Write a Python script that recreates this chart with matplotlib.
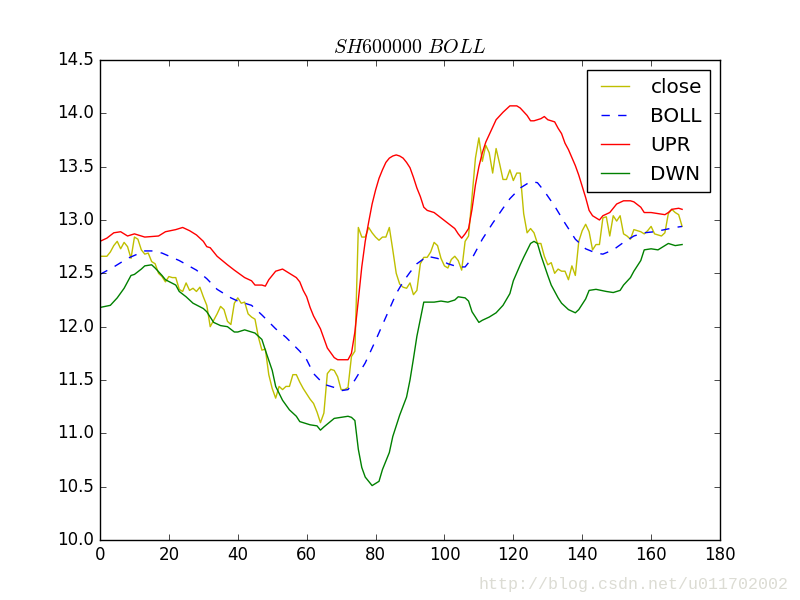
import matplotlib
matplotlib.use("Agg")
import matplotlib.pyplot as plt

plt.style.use("classic")

# close price, one value per trading day (0..169)
close = [
    12.66, 12.66, 12.66, 12.70, 12.76, 12.80, 12.73, 12.79, 12.75, 12.64,
    12.84, 12.82, 12.72, 12.68, 12.69, 12.61, 12.59, 12.50, 12.47, 12.42,
    12.47, 12.46, 12.46, 12.35, 12.33, 12.41, 12.34, 12.36, 12.33, 12.37,
    12.28, 12.20, 12.00, 12.06, 12.12, 12.19, 12.16, 12.05, 12.02, 12.22,
    12.27, 12.22, 12.23, 12.12, 12.09, 12.07, 11.90, 11.78, 11.79, 11.55,
    11.42, 11.33, 11.44, 11.41, 11.44, 11.44, 11.55, 11.55, 11.48, 11.42,
    11.37, 11.32, 11.28, 11.20, 11.10, 11.19, 11.56, 11.60, 11.59, 11.53,
    11.41, 11.41, 11.43, 11.72, 11.77, 12.93, 12.84, 12.84, 12.93, 12.88,
    12.84, 12.81, 12.84, 12.84, 12.93, 12.72, 12.50, 12.40, 12.37, 12.36,
    12.41, 12.30, 12.34, 12.59, 12.65, 12.65, 12.70, 12.79, 12.76, 12.64,
    12.57, 12.55, 12.63, 12.66, 12.62, 12.53, 12.80, 12.85, 13.22, 13.58,
    13.77, 13.55, 13.70, 13.63, 13.44, 13.67, 13.53, 13.38, 13.38, 13.47,
    13.37, 13.44, 13.44, 13.06, 12.88, 12.92, 12.88, 12.78, 12.78, 12.66,
    12.58, 12.60, 12.50, 12.54, 12.52, 12.52, 12.44, 12.57, 12.48, 12.80,
    12.90, 12.96, 12.89, 12.72, 12.77, 12.77, 13.02, 13.03, 12.85, 13.04,
    12.99, 13.04, 12.87, 12.85, 12.82, 12.91, 12.90, 12.89, 12.87, 12.90,
    12.94, 12.87, 12.86, 12.85, 12.88, 13.06, 13.10, 13.07, 13.05, 12.94,
]
days = list(range(len(close)))

# bollinger middle band, read at sampled days
boll_x = [0, 4, 8, 13, 15, 18, 23, 28, 31, 34, 38, 40, 44, 47, 51, 54, 58, 60,
          62, 65, 68, 70, 72, 74, 77, 80, 83, 86, 88, 90, 92, 95, 98, 101, 104,
          106, 108, 111, 114, 117, 119, 122, 125, 127, 129, 132, 135, 138, 141,
          144, 146, 149, 152, 155, 158, 161, 164, 167, 169]
boll = [12.49, 12.56, 12.64, 12.71, 12.71, 12.69, 12.62, 12.53, 12.45, 12.35,
        12.27, 12.24, 12.20, 12.11, 11.98, 11.90, 11.77, 11.69, 11.56, 11.46,
        11.43, 11.40, 11.41, 11.50, 11.66, 11.87, 12.09, 12.31, 12.42, 12.51,
        12.59, 12.66, 12.64, 12.59, 12.56, 12.56, 12.64, 12.82, 12.97, 13.11,
        13.20, 13.30, 13.36, 13.35, 13.27, 13.13, 12.97, 12.82, 12.73, 12.69,
        12.68, 12.72, 12.79, 12.85, 12.88, 12.89, 12.91, 12.93, 12.94]

# upper band
upr_x = [0, 2, 4, 6, 8, 10, 13, 17, 19, 22, 24, 26, 28, 30, 31, 32, 34, 37,
         39, 42, 44, 45, 47, 48, 49, 51, 53, 55, 57, 58, 59, 60, 61, 62, 64,
         66, 68, 69, 72, 73, 74, 75, 76, 77, 78, 79, 80, 81, 82, 83, 84, 85,
         86, 87, 88, 89, 90, 91, 92, 93, 94, 95, 97, 99, 101, 103, 104, 105,
         106, 107, 108, 109, 110, 111, 112, 113, 114, 115, 117, 119, 121, 122,
         124, 125, 126, 128, 129, 130, 132, 133, 134, 135, 136, 138, 139, 141,
         142, 143, 145, 146, 148, 149, 150, 152, 154, 155, 157, 158, 160, 162,
         164, 165, 166, 168, 169]
upr = [12.80, 12.83, 12.88, 12.89, 12.85, 12.87, 12.84, 12.85, 12.89, 12.91,
       12.93, 12.90, 12.86, 12.80, 12.75, 12.74, 12.66, 12.58, 12.53, 12.46,
       12.43, 12.39, 12.39, 12.38, 12.44, 12.52, 12.54, 12.50, 12.46, 12.42,
       12.34, 12.28, 12.18, 12.10, 11.98, 11.80, 11.71, 11.69, 11.69, 11.75,
       11.95, 12.25, 12.56, 12.80, 12.98, 13.15, 13.28, 13.39, 13.47, 13.54,
       13.58, 13.60, 13.61, 13.60, 13.58, 13.54, 13.49, 13.40, 13.30, 13.22,
       13.12, 13.09, 13.07, 13.02, 12.97, 12.92, 12.87, 12.83, 12.87, 12.92,
       13.10, 13.33, 13.50, 13.63, 13.73, 13.80, 13.87, 13.94, 14.01, 14.07,
       14.07, 14.05, 13.98, 13.93, 13.93, 13.95, 13.97, 13.94, 13.92, 13.86,
       13.81, 13.72, 13.66, 13.51, 13.42, 13.21, 13.09, 13.04, 13.00, 13.04,
       13.07, 13.11, 13.15, 13.18, 13.18, 13.17, 13.12, 13.07, 13.07, 13.06,
       13.05, 13.07, 13.10, 13.11, 13.10]

# lower band
dwn_x = [0, 3, 5, 7, 9, 10, 12, 13, 15, 16, 18, 19, 22, 23, 25, 27, 30, 31,
         33, 35, 37, 39, 40, 42, 44, 45, 47, 48, 50, 51, 53, 55, 57, 58, 61,
         63, 64, 65, 68, 70, 72, 73, 74, 75, 76, 77, 79, 81, 82, 84, 85, 87,
         89, 90, 91, 92, 93, 94, 97, 99, 101, 103, 104, 106, 107, 108, 110,
         111, 113, 115, 117, 119, 120, 122, 123, 125, 126, 127, 128, 130, 131,
         133, 134, 136, 138, 139, 141, 142, 144, 147, 149, 151, 152, 154, 155,
         157, 158, 160, 162, 163, 165, 167, 169]
dwn = [12.18, 12.20, 12.27, 12.36, 12.48, 12.49, 12.54, 12.57, 12.58, 12.55,
       12.48, 12.44, 12.39, 12.33, 12.28, 12.22, 12.17, 12.14, 12.04, 12.01,
       12.00, 11.95, 11.95, 11.97, 11.95, 11.94, 11.88, 11.78, 11.59, 11.44,
       11.31, 11.22, 11.16, 11.11, 11.08, 11.07, 11.03, 11.06, 11.14, 11.15,
       11.16, 11.15, 11.12, 10.85, 10.68, 10.59, 10.51, 10.55, 10.66, 10.82,
       10.97, 11.17, 11.34, 11.50, 11.70, 11.91, 12.07, 12.23, 12.23, 12.24,
       12.23, 12.25, 12.28, 12.27, 12.24, 12.14, 12.04, 12.06, 12.09, 12.13,
       12.20, 12.31, 12.43, 12.58, 12.65, 12.78, 12.80, 12.78, 12.67, 12.48,
       12.39, 12.27, 12.22, 12.16, 12.13, 12.16, 12.26, 12.34, 12.35, 12.33,
       12.32, 12.34, 12.39, 12.46, 12.52, 12.62, 12.72, 12.73, 12.72, 12.74,
       12.78, 12.76, 12.77]

fig = plt.figure(figsize=(8, 6), dpi=100, facecolor="white")
ax = fig.add_subplot(111)

ax.plot(days, close, "y", label="close")
ax.plot(boll_x, boll, "b--", label="BOLL")
ax.plot(upr_x, upr, "r", label="UPR")
ax.plot(dwn_x, dwn, "g", label="DWN")

ax.set_xlim(0, 180)
ax.set_ylim(10.0, 14.5)
ax.set_title(r"$SH600000\ BOLL$")
ax.legend(loc="upper right")

# blog watermark
fig.text(0.985, 0.025, "http://blog.csdn.net/u011702002", ha="right", va="center",
         family="Liberation Mono", fontsize=12, color="#dcdcd4")

fig.savefig("out.png", dpi=100, facecolor="white")
